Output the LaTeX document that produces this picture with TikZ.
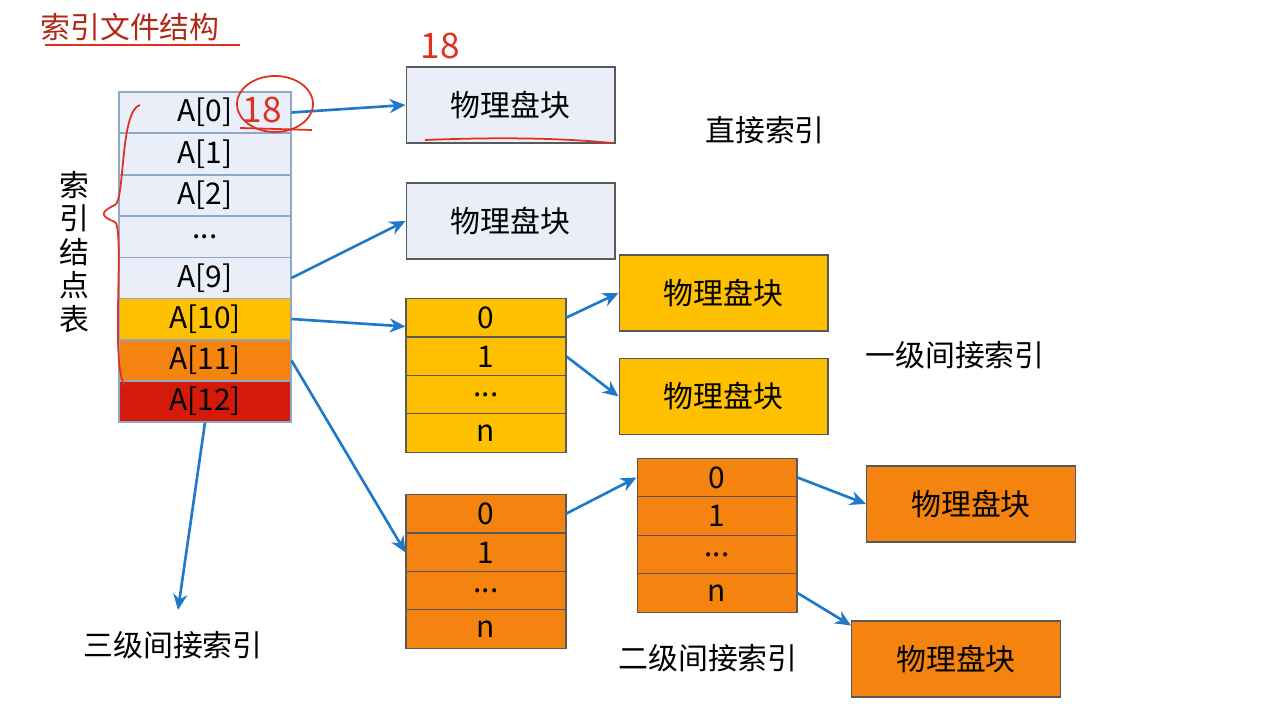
\documentclass[tikz,border=0pt]{standalone}
\usepackage{fontspec}
\setmainfont{Noto Sans CJK SC}
\usetikzlibrary{arrows.meta}
\definecolor{lb}{HTML}{E9EEF8}
\definecolor{bd}{HTML}{8EA9C8}
\definecolor{yl}{HTML}{FFC000}
\definecolor{og}{HTML}{F5830F}
\definecolor{rd}{HTML}{D41A0B}
\definecolor{ar}{HTML}{1F78C8}
\definecolor{hw}{HTML}{E0301E}
\begin{document}
\begin{tikzpicture}[x=0.02cm,y=-0.02cm,
  cell/.style={draw=bd,line width=0.6pt,minimum width=3.44cm,minimum height=0.82cm,inner sep=0pt,font=\fontsize{17}{19}\selectfont},
  sub/.style={draw=gray!70!black,line width=0.6pt,minimum width=3.2cm,minimum height=0.77cm,inner sep=0pt,font=\fontsize{17}{19}\selectfont},
  blk/.style={draw=gray!70!black,line width=0.6pt,minimum width=4.18cm,minimum height=1.52cm,inner sep=0pt,font=\fontsize{17}{19}\selectfont},
  lbl/.style={font=\fontsize{17}{19}\selectfont},
  arr/.style={draw=ar,line width=1.5pt,-{Stealth[length=9pt,width=8pt]}}]
\useasboundingbox (0,0) rectangle (1280,712);
\node[text=hw!80!black,font=\fontsize{17}{19}\selectfont] (title) at (130,27) {索引文件结构};
% index table
\node[cell,fill=lb] (a0) at (205,112.5) {A[0]};
\node[cell,fill=lb] (a1) at (205,154) {A[1]};
\node[cell,fill=lb] (a2) at (205,195.5) {A[2]};
\node[cell,fill=lb] (a3) at (205,237) {...};
\node[cell,fill=lb] (a9) at (205,278) {A[9]};
\node[cell,fill=yl] (a10) at (205,319) {A[10]};
\node[cell,fill=og] (a11) at (205,360.5) {A[11]};
\node[cell,fill=rd] (a12) at (205,401.5) {A[12]};
\node[lbl,align=center,text width=1em] (tbl) at (68,252) {索\\引\\结\\点\\表};
% blocks
\node[blk,fill=lb] (b0) at (510.5,105) {物理盘块};
\node[blk,fill=lb] (b1) at (510.5,221) {物理盘块};
\node[lbl] (d) at (765,130) {直接索引};
% yellow
\node[sub,fill=yl] (y0) at (486,317.5) {0};
\node[sub,fill=yl] (y1) at (486,356.5) {1};
\node[sub,fill=yl] (y2) at (486,395) {...};
\node[sub,fill=yl] (y3) at (486,433) {n};
\node[blk,fill=yl] (yb0) at (723.5,293) {物理盘块};
\node[blk,fill=yl] (yb1) at (723.5,396.5) {物理盘块};
\node[lbl] (l1) at (955,355) {一级间接索引};
% orange col 1
\node[sub,fill=og] (o0) at (486,513.5) {0};
\node[sub,fill=og] (o1) at (486,552.5) {1};
\node[sub,fill=og] (o2) at (486,591) {...};
\node[sub,fill=og] (o3) at (486,629) {n};
% orange col 2
\node[sub,fill=og] (p0) at (717,477.5) {0};
\node[sub,fill=og] (p1) at (717,516) {1};
\node[sub,fill=og] (p2) at (717,554.5) {...};
\node[sub,fill=og] (p3) at (717,593) {n};
\node[blk,fill=og] (ob0) at (971,504) {物理盘块};
\node[blk,fill=og] (ob1) at (956,659) {物理盘块};
\node[lbl] (l2) at (708,658) {二级间接索引};
\node[lbl] (l3) at (173,645) {三级间接索引};
\coordinate (e3) at (178,610);
% arrows
\draw[arr] (a0.east) -- (b0.west);
\draw[arr] (a9.east) -- (b1.west);
\draw[arr] (a10.east) -- ([yshift=-0.18cm]y0.west);
\draw[arr] (y0.east) -- (yb0.west);
\draw[arr] (y1.east) -- (yb1.west);
\draw[arr] (a11.east) -- (o1.west);
\draw[arr] (o0.east) -- (p0.west);
\draw[arr] (p0.east) -- (ob0.west);
\draw[arr] (p3.east) -- ([yshift=-0.1cm]ob1.north west);
\draw[arr] (a12.south) -- (e3);
% handwritten annotations
\node[text=hw,font=\fontsize{20}{20}\selectfont] (h1) at (262,110) {18};
\draw[hw,line width=1pt] (275,104) ellipse (38 and 28);
\draw[hw,line width=1pt] (240,128) -- (312,130);
\node[text=hw,font=\fontsize{20}{20}\selectfont] (h2) at (440,46) {18};
\draw[hw,line width=1pt] (425,140) .. controls (500,137) and (560,138) .. (612,143);
\draw[hw,line width=1pt] (45,45) -- (240,45);
\draw[hw,line width=1pt] (140,105) .. controls (120,110) and (125,200) .. (115,205)
  .. controls (100,212) and (100,216) .. (115,222) .. controls (125,230) and (110,370) .. (125,385);
\end{tikzpicture}
\end{document}
